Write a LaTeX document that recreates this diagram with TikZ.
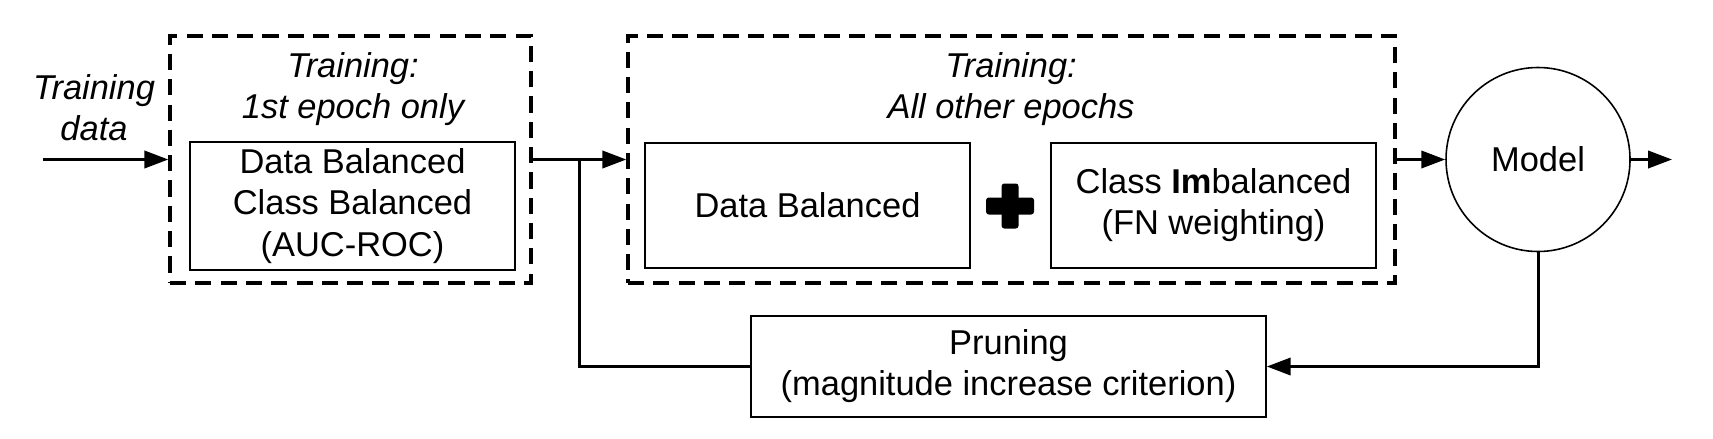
\documentclass[tikz,border=0pt]{standalone}
\usepackage{fontspec}
\setmainfont{Liberation Sans}
\usepackage{tikz}
\usetikzlibrary{positioning,arrows.meta,calc}

\begin{document}
\begin{tikzpicture}[
  font=\fontsize{9.8}{11.7}\selectfont,
  grp/.style={
    draw=black, line width=0.95pt,
    dash pattern=on 4.6pt off 2.6pt,
    minimum height=2.47cm, inner sep=0pt
  },
  blk/.style={
    draw=black, line width=0.45pt,
    minimum width=3.25cm, minimum height=1.25cm,
    align=center, inner sep=2pt
  },
  ttl/.style={font=\fontsize{9.8}{11.7}\selectfont\itshape, align=center},
  bar/.style={fill=black, rounded corners=0.8pt, inner sep=0pt},
  a/.style={-{Triangle[length=6.8pt,width=4.9pt]},line width=0.85pt},
  ln/.style={line width=0.85pt}
]
\useasboundingbox (0,0) rectangle (17.13,4.38);

% Input
\node[ttl] (tdata) at (0.94,3.30) {Training\\data};
\coordinate (in) at (0.43,2.785);

% First epoch
\node[grp,minimum width=3.61cm] (first) at (3.505,2.785) {};
\node[ttl] (firstlbl) at (3.53,3.49)
  {Training:\\1st epoch only};
\node[blk,minimum height=1.26cm] (bal) at (3.525,2.32)
  {Data Balanced\\Class Balanced\\(AUC-ROC)};

% Other epochs
\node[grp,minimum width=7.67cm] (rest) at (10.115,2.785) {};
\node[ttl] (restlbl) at (10.11,3.49)
  {Training:\\All other epochs};
\node[blk] (dbal) at (8.075,2.325) {Data Balanced};
\node[blk] (cimb) at (12.135,2.325)
  {Class \textbf{Im}balanced\\(FN weighting)};
\node[bar,minimum width=0.48cm,minimum height=0.17cm] (plus) at (10.10,2.32) {};
\node[bar,minimum width=0.17cm,minimum height=0.45cm] (plusv) at (plus) {};

% Model and pruning
\node[draw,circle,line width=0.45pt,minimum size=1.84cm] (model) at (15.38,2.785) {Model};
\coordinate (out) at (16.72,2.785);
\node[blk,minimum width=5.15cm,minimum height=1.01cm] (prune) at (10.085,0.715)
  {Pruning\\(magnitude increase criterion)};

% Arrows
\draw[a] (in)--(first.west);
\draw[a] (first.east)--(rest.west);
\coordinate (br) at ($(first.east)!0.5!(rest.west)$);
\draw[ln] (prune.west) -| (br);
\draw[a] (rest.east)--(model.west);
\draw[a] (model.east)--(out);
\draw[a] (model.south) |- (prune.east);
\end{tikzpicture}
\end{document}
